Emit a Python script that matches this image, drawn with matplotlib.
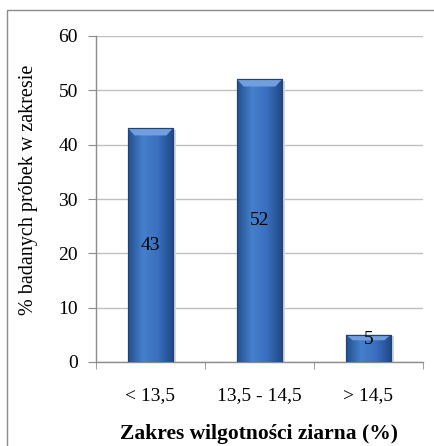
import numpy as np
import matplotlib
matplotlib.use("Agg")
import matplotlib.pyplot as plt
from matplotlib.colors import LinearSegmentedColormap
from matplotlib.patches import Rectangle

categories = ["< 13,5", "13,5 - 14,5", "> 14,5"]
values = [43, 52, 5]
yticks = [0, 10, 20, 30, 40, 50, 60]

plt.rcParams.update({"font.family": ["Liberation Serif", "DejaVu Serif"], "font.size": 10})

fig = plt.figure(figsize=(4.35, 4.46), dpi=100)
# outer chart frame
fig.add_artist(Rectangle((7/435, -0.01), 1.0, 1 - 10/446 + 0.01, transform=fig.transFigure,
                         fill=False, edgecolor="#8c8c8c", lw=1.0))
ax = fig.add_axes([96/435, 1 - 362/446, (423 - 96)/435, (362 - 36)/446])

grad = LinearSegmentedColormap.from_list("barblue", ["#24508f", "#4580cc", "#3a6fbf", "#214a88"])
x = np.arange(len(categories))
w = 0.41
bars = ax.bar(x, values, width=w, color="#3c70bd", edgecolor="#1f4278", lw=0.8, zorder=3)
g = np.linspace(0, 1, 64).reshape(1, -1)
for b in bars:
    x0, y0, bw, bh = b.get_x(), b.get_y(), b.get_width(), b.get_height()
    im = ax.imshow(g, cmap=grad, extent=[x0, x0 + bw, y0, y0 + bh], aspect="auto", zorder=3.5)
    im.set_clip_path(b)
    # lighter bevel along the top edge
    cap = min(1.3, bh * 0.2)
    ax.fill([x0, x0 + bw, x0 + bw - 0.06, x0 + 0.06], [y0 + bh, y0 + bh, y0 + bh - cap, y0 + bh - cap],
            color="#6f9fe0", lw=0, zorder=3.7)
    # soft shadow on the right
    ax.add_patch(Rectangle((x0 + bw, y0), 0.025, bh - 0.3, color="#d8d8d8", lw=0, zorder=2.5))
    ax.add_patch(Rectangle((x0, y0), bw, bh, fill=False, edgecolor="#1f4278", lw=0.8, zorder=3.8))

for xi, v in zip(x, values):
    ypos = v / 2 if v > 10 else v - 0.8
    ax.text(xi, ypos, str(v), ha="center", va="center", fontsize=14, zorder=4)

ax.set_xlim(-0.5, len(categories) - 0.5)
ax.set_ylim(0, 60)
ax.set_yticks(yticks)
ax.set_xticks(x)
ax.set_xticklabels(categories, fontsize=14)
ax.set_xticks(np.arange(len(categories) + 1) - 0.5, minor=True)
ax.tick_params(axis="x", which="major", length=0, pad=18)
ax.tick_params(axis="x", which="minor", length=5, color="#8c8c8c", direction="out")
ax.tick_params(axis="y", length=6, color="#8c8c8c", direction="out", labelsize=14, pad=7)
ax.grid(axis="y", color="#c0c0c0", lw=1.0, zorder=0)
for s in ["top", "right"]:
    ax.spines[s].set_visible(False)
for s in ["left", "bottom"]:
    ax.spines[s].set_color("#8c8c8c")
    ax.spines[s].set_linewidth(1.0)

ax.set_xlabel("Zakres wilgotności ziarna (%)", fontsize=15.5, fontweight="bold")
ax.xaxis.set_label_coords(0.5, -0.19)
ax.set_ylabel("% badanych próbek w zakresie", fontsize=14.5, va="center")
ax.yaxis.set_label_coords(-0.205, 0.527)

fig.savefig("out.png", dpi=100)
